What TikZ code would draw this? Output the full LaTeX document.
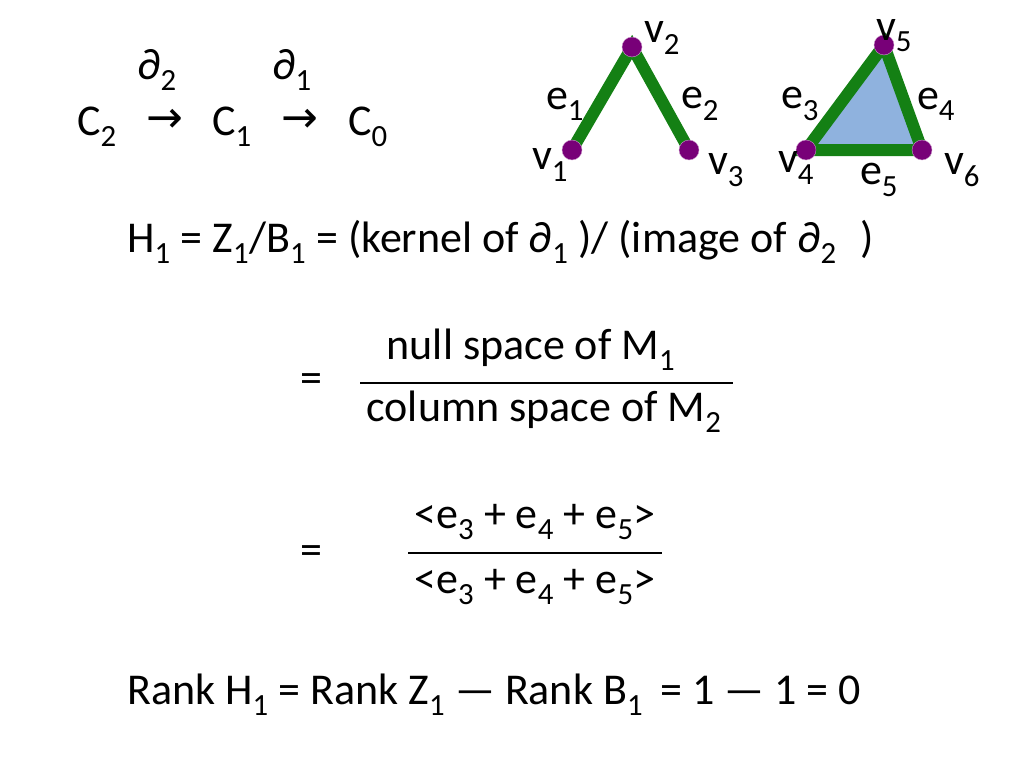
\documentclass[tikz,border=0pt]{standalone}
\usepackage{fontspec}
\setmainfont{Carlito}
\newfontfamily\symfont{DejaVu Sans}
\newcommand{\sub}[1]{\textsubscript{#1}}
\newcommand{\bd}{\symbol{"2202}}
\definecolor{facecol}{RGB}{143,178,222}
\definecolor{edgecol}{RGB}{20,128,20}
\definecolor{vertcol}{RGB}{120,0,120}
\begin{document}
\begin{tikzpicture}[x=1pt,y=-1pt,
    txt/.style={font=\fontsize{44}{48}\selectfont, inner sep=0pt},
    arr/.style={font=\symfont\fontsize{44}{48}\selectfont, inner sep=0pt},
    edge/.style={draw=edgecol, line width=12pt, line cap=round},
    vert/.style={circle, fill=vertcol, draw=violet!40, inner sep=0pt, minimum size=20pt}]
    \useasboundingbox (0,0) rectangle (1024,768);

    % chain complex
    \node[txt] (d2) at (157,70) {\bd\sub{2}};
    \node[txt] (d1) at (292,70) {\bd\sub{1}};
    \node[txt] (c2) at (97,127) {C\sub{2}};
    \node[arr] (a2) at (165,121) {→};
    \node[txt] (c1) at (232,127) {C\sub{1}};
    \node[arr] (a1) at (300,121) {→};
    \node[txt] (c0) at (368,127) {C\sub{0}};

    % the complex
    \fill[facecol] (806,150) -- (884,45) -- (922,150) -- cycle;
    \coordinate (p1) at (572,150);
    \coordinate (p2) at (632,47);
    \coordinate (p3) at (689,150);
    \coordinate (p4) at (806,150);
    \coordinate (p5) at (884,45);
    \coordinate (p6) at (922,150);
    \draw[edge] (p1) -- (p2) -- (p3);
    \draw[edge] (p4) -- (p5) -- (p6) -- cycle;
    \foreach \p in {p1,p2,p3,p4,p5,p6}
        \node[vert] at (\p) {};

    \node[txt] (v2) at (662,38) {v\sub{2}};
    \node[txt] (v5) at (894,36) {v\sub{5}};
    \node[txt] (e1) at (565,104) {e\sub{1}};
    \node[txt] (e2) at (700,104) {e\sub{2}};
    \node[txt] (e3) at (800,104) {e\sub{3}};
    \node[txt] (e4) at (936,104) {e\sub{4}};
    \node[txt] (v1) at (550,165) {v\sub{1}};
    \node[txt] (v3) at (726,170) {v\sub{3}};
    \node[txt] (v4) at (796,168) {v\sub{4}};
    \node[txt] (e5) at (879,180) {e\sub{5}};
    \node[txt] (v6) at (962,170) {v\sub{6}};

    % homology
    \node[txt, anchor=west] (h1) at (127,242) {H\sub{1} = Z\sub{1}/B\sub{1} = (kernel of \bd\sub{1} )/ (image of \bd\sub{2}\hspace{24pt})};

    \node[txt] (eq1) at (311,383) {=};
    \node[txt] (num1) at (531,350) {null space of M\sub{1}};
    \node[txt] (den1) at (544,412) {column space of M\sub{2}};
    \draw[line width=1.5pt] (360,383) -- (733,383);

    \node[txt] (eq2) at (311,555) {=};
    \node[txt] (num2) at (535,522) {<e\sub{3} + e\sub{4} + e\sub{5}>};
    \node[txt] (den2) at (535,587) {<e\sub{3} + e\sub{4} + e\sub{5}>};
    \draw[line width=1.5pt] (408,553) -- (662,553);

    \node[txt, anchor=west] (rank) at (127,695) {Rank H\sub{1} = Rank Z\sub{1} — Rank B\sub{1}\, = 1 — 1 = 0};
\end{tikzpicture}
\end{document}
